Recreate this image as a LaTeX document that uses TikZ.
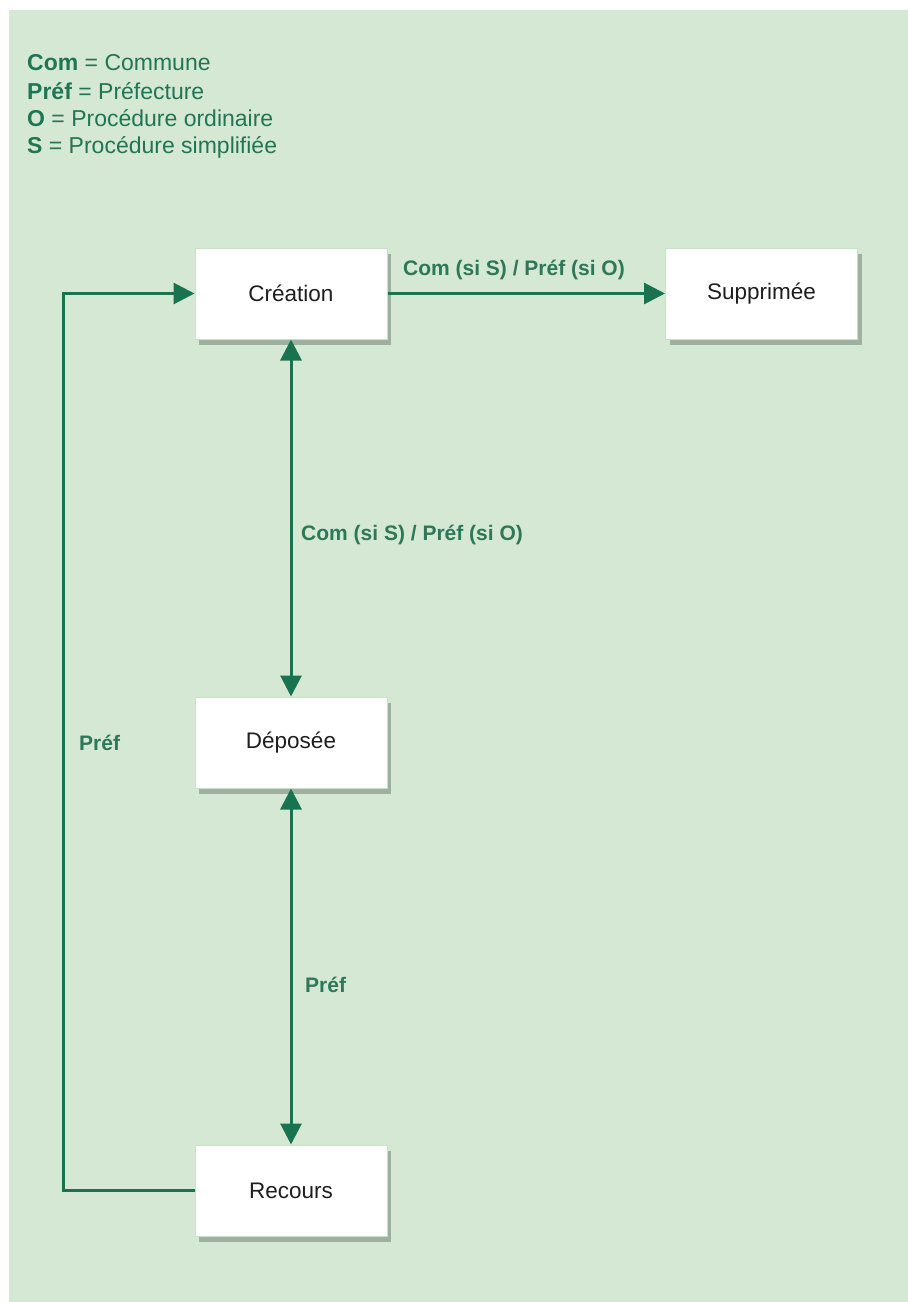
\documentclass[tikz,border=0pt]{standalone}
\usepackage{fontspec}
\setmainfont{Liberation Sans}
\usetikzlibrary{arrows.meta,shadows}
\definecolor{bggreen}{RGB}{213,232,212}
\definecolor{linegreen}{RGB}{25,114,80}
\definecolor{txtgreen}{RGB}{32,118,84}
\definecolor{lblgreen}{RGB}{45,120,88}
\definecolor{boxborder}{RGB}{196,228,196}
\definecolor{shadowgray}{RGB}{160,176,160}
\definecolor{boxtext}{RGB}{30,30,30}
\tikzset{
  statebox/.style={draw=boxborder, line width=1pt, fill=white, minimum width=192pt, minimum height=91pt, inner sep=0pt,
    font=\fontsize{22.5}{27}\selectfont, text=boxtext,
    drop shadow={shadow xshift=4pt, shadow yshift=-6pt, fill=shadowgray, opacity=1}},
  conn/.style={draw=linegreen, line width=3pt, -{Triangle[length=21pt,width=21pt]}},
  biconn/.style={draw=linegreen, line width=3pt, {Triangle[length=21pt,width=21pt]}-{Triangle[length=21pt,width=21pt]}},
  edgelbl/.style={font=\fontsize{21}{25}\selectfont\bfseries, text=lblgreen, inner sep=0pt},
  legend/.style={font=\fontsize{23}{28}\selectfont, text=txtgreen, anchor=west, inner sep=0pt}
}
\begin{document}
\begin{tikzpicture}[x=1pt,y=-1pt]
\useasboundingbox (0,0) rectangle (908,1302);
\fill[bggreen] (9,10) rectangle (908,1302);

\node[legend] (l1) at (27,63) {\textbf{Com} = Commune};
\node[legend] (l2) at (27,91) {\textbf{Préf} = Préfecture};
\node[legend] (l3) at (27,118.5) {\textbf{O} = Procédure ordinaire};
\node[legend] (l4) at (27,147) {\textbf{S} = Procédure simplifiée};

\node[statebox] (creation) at (291,293.5) {Création};
\node[statebox] (supprimee) at (761.5,293.5) {Supprimée};
\node[statebox] (deposee) at (291,742.5) {Déposée};
\node[statebox] (recours) at (291,1190.5) {Recours};

\draw[conn] (creation.east) -- (supprimee.west);
\node[edgelbl] (lbl1) at (514,270) {Com (si S) / Préf (si O)};

\draw[biconn] (creation.south) -- (deposee.north);
\node[edgelbl, anchor=west] (lbl2) at (301,535) {Com (si S) / Préf (si O)};

\draw[biconn] (deposee.south) -- (recours.north);
\node[edgelbl, anchor=west] (lbl3) at (305,985) {Préf};

\coordinate (c1) at (63,1190.5);
\coordinate (c2) at (63,293.5);
\draw[conn, line join=miter] (recours.west) -- (c1) -- (c2) -- (creation.west);
\node[edgelbl, anchor=west] (lbl4) at (79,743) {Préf};
\end{tikzpicture}
\end{document}
